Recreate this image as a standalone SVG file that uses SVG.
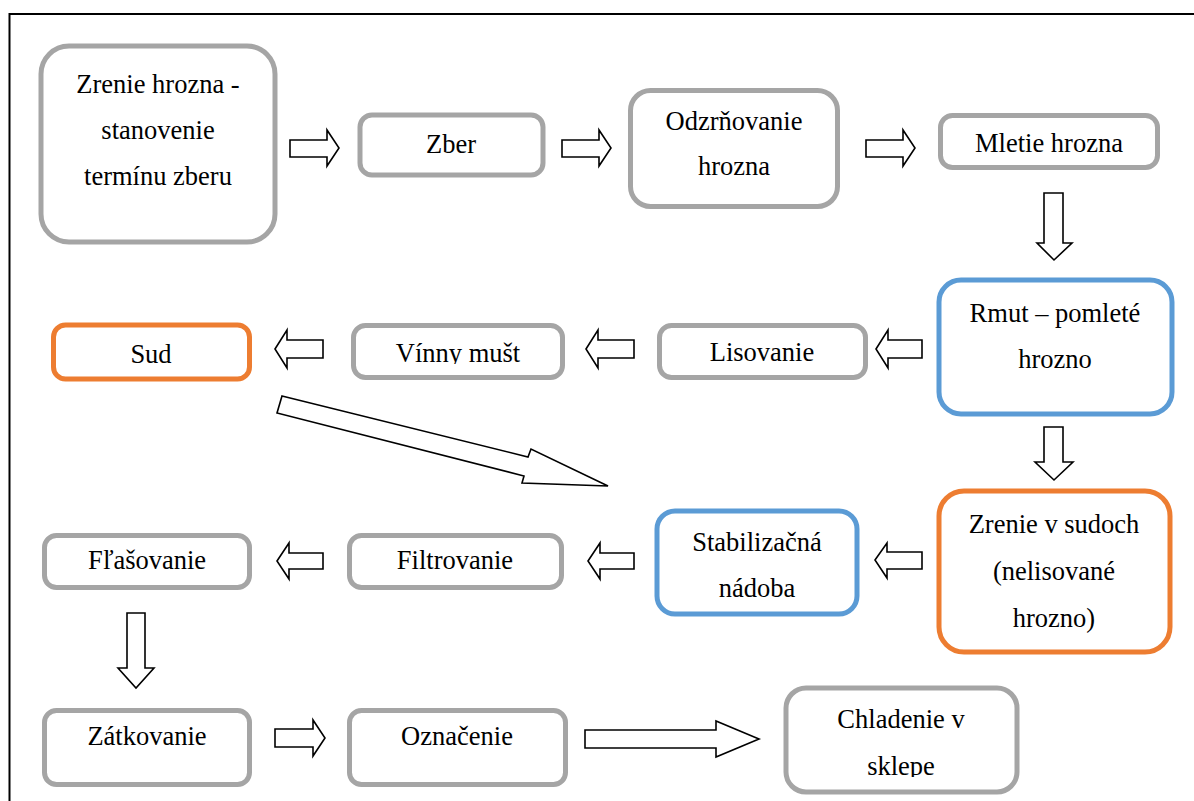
<svg xmlns="http://www.w3.org/2000/svg" width="1194" height="801" viewBox="0 0 1194 801">
<defs>
<style>
.box{fill:#fff;stroke-width:5}
.g{stroke:#A5A5A5}
.b{stroke:#5B9BD5}
.o{stroke:#ED7D31}
.t{font-family:'Liberation Serif','Times New Roman',Tinos,'DejaVu Serif','Noto Serif',serif;font-size:26.5px;fill:#000;text-anchor:middle}
.ar{fill:#fff;stroke:#000;stroke-width:1.6;stroke-linejoin:miter}
</style>
<clipPath id="clipG"><rect x="340" y="300" width="240" height="64"/></clipPath>
<clipPath id="clipO"><rect x="770" y="680" width="260" height="97"/></clipPath>
</defs>
<rect x="9.5" y="14" width="1200" height="800" fill="#fff" stroke="#000" stroke-width="2"/>

<g id="connectors">
<polygon class="ar" points="290,140 327,140 327,130 339,148 327,166 327,157 290,157"/>
<polygon class="ar" points="562,140 599,140 599,130 611,148 599,166 599,157 562,157"/>
<polygon class="ar" points="866,140 903,140 903,130 915,148 903,166 903,157 866,157"/>
<polygon class="ar" points="1044,193 1063,193 1063,243 1072,243 1054,260 1037,243 1044,243"/>
<polygon class="ar" points="1044,427 1063,427 1063,462 1073,462 1054,480 1035,462 1044,462"/>
<polygon class="ar" points="275,349 287,330 287,340 323,340 323,358 287,358 287,368"/>
<polygon class="ar" points="586,349 598,330 598,340 634,340 634,358 598,358 598,368"/>
<polygon class="ar" points="876,349 888,330 888,340 922,340 922,358 888,358 888,368"/>
<polygon class="ar" points="282,396 528,457 531,449 608,486 522,483 524,476 277,413"/>
<polygon class="ar" points="277,561 289,543 289,553 323,553 323,569 289,569 289,579"/>
<polygon class="ar" points="588,561 600,543 600,553 634,553 634,569 600,569 600,579"/>
<polygon class="ar" points="875,560 887,543 887,552 922,552 922,569 887,569 887,578"/>
<polygon class="ar" points="127,613 145,613 145,668 154,668 136,688 118,668 127,668"/>
<polygon class="ar" points="275,729 313,729 313,720 325,738 313,756 313,747 275,747"/>
<polygon class="ar" points="585,730 716,730 716,721 759,739 716,757 716,748 585,748"/>
</g>

<g id="n1"><rect class="box g" x="41" y="46" width="234" height="196" rx="28"/>
<text class="t" x="158" y="93">Zrenie hrozna -</text>
<text class="t" x="158" y="139">stanovenie</text>
<text class="t" x="158" y="185">termínu zberu</text></g>
<g id="n2"><rect class="box g" x="360" y="115" width="183" height="60" rx="12"/>
<text class="t" x="451" y="153">Zber</text></g>
<g id="n3"><rect class="box g" x="630.5" y="90.5" width="207" height="116" rx="20"/>
<text class="t" x="734" y="130">Odzrňovanie</text>
<text class="t" x="734" y="175">hrozna</text></g>
<g id="n4"><rect class="box g" x="940.5" y="115.5" width="217" height="52" rx="12"/>
<text class="t" x="1049" y="152">Mletie hrozna</text></g>
<g id="n5"><rect class="box b" x="939" y="280" width="233" height="134" rx="22"/>
<text class="t" x="1055" y="322">Rmut – pomleté</text>
<text class="t" x="1055" y="368">hrozno</text></g>
<g id="n6"><rect class="box g" x="659.5" y="325.5" width="206" height="52" rx="12"/>
<text class="t" x="762" y="361">Lisovanie</text></g>
<g id="n7"><rect class="box g" x="353.5" y="325.5" width="209" height="52" rx="12"/>
<text class="t" x="458" y="362" clip-path="url(#clipG)">Vínny mušt</text></g>
<g id="n8"><rect class="box o" x="53.5" y="325" width="196" height="54" rx="12"/>
<text class="t" x="151" y="363">Sud</text></g>
<g id="n9"><rect class="box o" x="939" y="491" width="231" height="161" rx="25"/>
<text class="t" x="1054" y="533">Zrenie v sudoch</text>
<text class="t" x="1054" y="580">(nelisované</text>
<text class="t" x="1054" y="627">hrozno)</text></g>
<g id="n10"><rect class="box b" x="657" y="511" width="200" height="103" rx="18"/>
<text class="t" x="757" y="551">Stabilizačná</text>
<text class="t" x="757" y="597">nádoba</text></g>
<g id="n11"><rect class="box g" x="349.5" y="535.5" width="212" height="52" rx="12"/>
<text class="t" x="455" y="569">Filtrovanie</text></g>
<g id="n12"><rect class="box g" x="44.5" y="535.5" width="205" height="52" rx="12"/>
<text class="t" x="147" y="569">Fľašovanie</text></g>
<g id="n13"><rect class="box g" x="44.5" y="710.5" width="205" height="74" rx="12"/>
<text class="t" x="147" y="745">Zátkovanie</text></g>
<g id="n14"><rect class="box g" x="349.5" y="710.5" width="216" height="74" rx="12"/>
<text class="t" x="457" y="745">Označenie</text></g>
<g id="n15"><rect class="box g" x="786" y="688" width="231" height="104" rx="20"/>
<text class="t" x="901" y="728">Chladenie v</text>
<text class="t" x="901" y="775" clip-path="url(#clipO)">sklepe</text></g>
</svg>
